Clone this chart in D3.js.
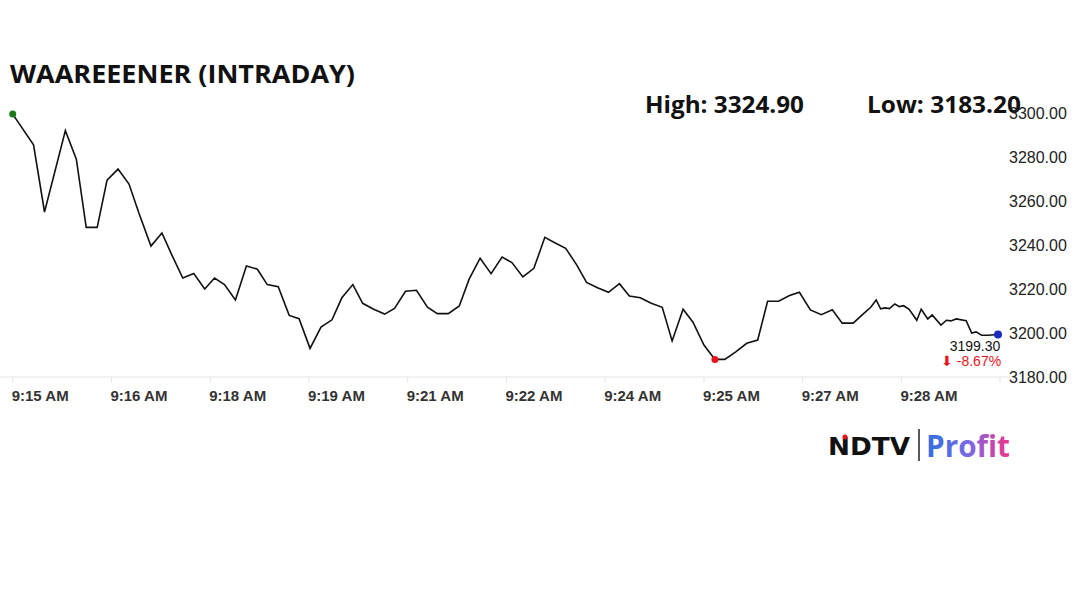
<!DOCTYPE html>
<html><head><meta charset="utf-8">
<script src="https://cdn.jsdelivr.net/npm/d3@7"></script>
<style>body{margin:0;background:#fff}</style></head>
<body><svg id="c" width="1080" height="607"></svg>
<script>
const title = "WAAREEENER (INTRADAY)";
const highLabel = "High: 3324.90", lowLabel = "Low: 3183.20";
const lastLabel = "3199.30", changeLabel = "⬇ -8.67%";
// seconds after 9:15:00
const secs = [0,19,29,48,58,67,77,86,96,106,115,126,136,145,155,165,175,184,193,203,213,223,232,242,252,261,271,281,291,300,310,319,329,339,348,358,368,378,387,397,407,416,426,436,446,455,465,475,485,494,504,514,523,533,543,553,562,572,582,592,601,611,620,630,640,649,659,669,679,688,698,708,717,727,737,747,756,766,776,782,787,791,795,799,804,808,812,817,824,828,834,838,846,851,855,860,869,874,878,883,889,898];
const prices = [3299.5,3285.5,3255,3292,3279,3248,3248,3269.5,3274.5,3267.7,3254.5,3239.5,3245.5,3235.5,3225,3227,3220,3225,3222,3215,3230.5,3229,3222,3221,3208,3206.5,3193,3202.7,3206,3216,3222,3213.5,3210.8,3208.6,3211.2,3219,3219.4,3211.7,3208.8,3208.8,3212.3,3224.5,3234,3227,3234.5,3232,3225.5,3229.4,3243.5,3241,3238.5,3231,3223,3220.6,3218.5,3222.4,3216.8,3216,3213.5,3211.7,3196.4,3210.8,3204.9,3194.5,3188,3188,3191.4,3195.3,3196.8,3214.4,3214.4,3217,3218.5,3210.5,3208.3,3210.6,3204.5,3204.5,3209,3211.7,3215,3211,3211.4,3211.1,3213.2,3212,3212.4,3210.8,3205.8,3210.8,3206.4,3208.2,3203.6,3205.8,3205.5,3206.4,3205.6,3200,3200.5,3199,3199,3199.3];
const yTicks = [3180,3200,3220,3240,3260,3280,3300];
const xTickSecs = [0,90,180,270,360,450,540,630,720,810];
const xTickLabels = ["9:15 AM","9:16 AM","9:18 AM","9:19 AM","9:21 AM","9:22 AM","9:24 AM","9:25 AM","9:27 AM","9:28 AM"];

const svg = d3.select("#c");
const x = d3.scaleLinear().domain([0,898]).range([12.7,998]);
const y = d3.scaleLinear().domain([3180,3300]).range([377,113]);
const F = "'Liberation Sans', Arial, sans-serif";
const H = "'Open Sans',sans-serif";

svg.append("text").attr("x",10).attr("y",83).attr("font-family",H)
  .attr("font-weight",700).attr("font-size",25).attr("textLength",345).attr("lengthAdjust","spacingAndGlyphs").attr("fill","#111").text(title);
svg.append("text").attr("x",645).attr("y",113).attr("font-family",H)
  .attr("font-weight",700).attr("font-size",23).attr("textLength",159).attr("lengthAdjust","spacingAndGlyphs").attr("fill","#111").text(highLabel);
svg.append("text").attr("x",867).attr("y",113).attr("font-family",H)
  .attr("font-weight",700).attr("font-size",23).attr("textLength",154).attr("lengthAdjust","spacingAndGlyphs").attr("fill","#111").text(lowLabel);

svg.append("line").attr("x1",0).attr("x2",1010).attr("y1",y(3180)).attr("y2",y(3180)).attr("stroke","#e6e6e6");
svg.selectAll(".yl").data(yTicks).enter().append("text").attr("x",1009).attr("y",d=>y(d)+6)
  .attr("font-family",F).attr("font-size",16).attr("fill","#222").text(d=>d.toFixed(2));
svg.selectAll(".xt").data(xTickSecs).enter().append("line").attr("x1",d=>x(d)).attr("x2",d=>x(d))
  .attr("y1",377).attr("y2",383).attr("stroke","#e6e6e6");
svg.append("line").attr("x1",x(898)+2).attr("x2",x(898)+2).attr("y1",377).attr("y2",383).attr("stroke","#e6e6e6");
svg.selectAll(".xl").data(xTickSecs).enter().append("text").attr("x",d=>x(d)-1).attr("y",401)
  .attr("font-family",F).attr("font-weight",700).attr("font-size",15).attr("fill","#333")
  .text((d,i)=>xTickLabels[i]);

const line = d3.line().x((d,i)=>x(secs[i])).y(d=>y(d));
svg.append("path").datum(prices).attr("d",line).attr("fill","none").attr("stroke","#111").attr("stroke-width",1.6);

const lowI = prices.indexOf(d3.min(prices));
svg.append("circle").attr("cx",x(secs[0])).attr("cy",y(prices[0])).attr("r",3.5).attr("fill","#1a7a1a");
svg.append("circle").attr("cx",x(secs[lowI])).attr("cy",y(prices[lowI])).attr("r",3.5).attr("fill","#e8141b");
const L = prices.length-1;
svg.append("circle").attr("cx",x(secs[L])).attr("cy",y(prices[L])).attr("r",4).attr("fill","#1b2bbf");

svg.append("text").attr("x",975).attr("y",351).attr("text-anchor","middle").attr("font-family",F)
  .attr("font-size",14).attr("fill","#111").text(lastLabel);
svg.append("text").attr("x",971).attr("y",366).attr("text-anchor","middle").attr("font-family",F)
  .attr("font-size",14).attr("fill","#e8141b").text(changeLabel);

svg.append("text").attr("x",828).attr("y",455).attr("font-family","'DejaVu Sans',sans-serif").attr("font-weight",900)
  .attr("font-size",25).attr("textLength",82).attr("lengthAdjust","spacingAndGlyphs").attr("fill","#111").text("NDTV");
svg.append("circle").attr("cx",845).attr("cy",437).attr("r",2.5).attr("fill","#e8141b");
svg.append("line").attr("x1",919).attr("x2",919).attr("y1",429).attr("y2",461).attr("stroke","#222").attr("stroke-width",1.5);
const g = svg.append("defs").append("linearGradient").attr("id","pg");
g.append("stop").attr("offset","0%").attr("stop-color","#2f6fe0");
g.append("stop").attr("offset","50%").attr("stop-color","#7a6ae6");
g.append("stop").attr("offset","100%").attr("stop-color","#f0348a");
svg.append("text").attr("x",926).attr("y",457).attr("font-family",H).attr("font-weight",700)
  .attr("font-size",30).attr("textLength",84).attr("lengthAdjust","spacingAndGlyphs").attr("fill","url(#pg)").text("Profit");
</script></body></html>
